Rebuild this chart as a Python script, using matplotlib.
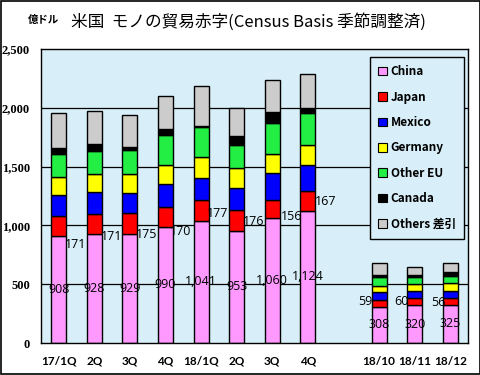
import numpy as np
import matplotlib
matplotlib.use("Agg")
import matplotlib.pyplot as plt
from matplotlib.patches import Patch, Rectangle

# --- data (億ドル) ---
periods  = ["17/1Q", "2Q", "3Q", "4Q", "18/1Q", "2Q", "3Q", "4Q", "18/10", "18/11", "18/12"]
china    = [908, 928, 929, 990, 1041, 953, 1060, 1124, 308, 320, 325]
japan    = [171, 171, 175, 170, 177, 176, 156, 167, 59, 60, 56]
mexico   = [179, 182, 168, 189, 182, 186, 226, 219, 64, 62, 64]
germany  = [153, 153, 162, 161, 178, 170, 161, 170, 51, 57, 62]
other_eu = [198, 201, 209, 258, 255, 198, 270, 272, 76, 59, 65]
canada   = [48, 57, 23, 48, 14, 77, 91, 43, 20, 17, 29]
others   = [295, 277, 269, 281, 335, 235, 269, 291, 102, 68, 79]

series = [
    ("China",    china,    "#FF99FF"),
    ("Japan",    japan,    "#FF0000"),
    ("Mexico",   mexico,   "#0000FF"),
    ("Germany",  germany,  "#FFFF00"),
    ("Other EU", other_eu, "#22EE44"),
    ("Canada",   canada,   "#000000"),
    ("Others 差引", others, "#CCCCCC"),
]

x = np.array([0, 1, 2, 3, 4, 5, 6, 7, 9, 10, 11], dtype=float)
# label placement tweaks for the Japan values (offset from segment middle)
jp_off = [-160, -110, -90, -131, -25, -10, -64, -6, 14, 0, -10]
jp_dx  = [0.47, 0.47, 0.47, 0.43, 0.45, 0.47, 0.55, 0.5, -0.38, -0.38, -0.33]

BG = "#D8EEF8"
JP = ["Noto Sans CJK JP", "DejaVu Sans"]

fig = plt.figure(figsize=(4.81, 3.75), dpi=100)
fig.patch.set_facecolor("white")
ax = fig.add_axes([0.0852, 0.0853, 0.888, 0.784])
ax.set_facecolor(BG)

for v in [500, 1000, 1500, 2000]:
    ax.axhline(v, color="black", linewidth=0.9, zorder=1)

bottom = np.zeros(len(x))
for name, vals, col in series:
    vals = np.array(vals, dtype=float)
    ax.bar(x, vals, 0.42, bottom=bottom, color=col, edgecolor="black",
           linewidth=1.0, zorder=2)
    bottom += vals

for i in range(len(x)):
    c = china[i]
    ax.text(x[i], c / 2, f"{c:,}", ha="center", va="center", fontsize=9,
            family="Open Sans", color="black", zorder=4)
    jy = c + japan[i] / 2 + jp_off[i]
    ax.text(x[i] + jp_dx[i], jy, str(japan[i]), ha="center", va="center",
            fontsize=9, family="Open Sans", color="black", zorder=4)

ax.set_xlim(-0.5, 11.5)
ax.set_ylim(0, 2500)
ax.set_xticks(x)
ax.set_xticklabels(periods, fontsize=8.5, fontweight="bold", family="Lato")
ax.set_yticks([0, 500, 1000, 1500, 2000, 2500])
ax.set_yticklabels(["0", "500", "1,000", "1,500", "2,000", "2,500"],
                   fontsize=9, fontweight="bold", family="Liberation Serif")
ax.tick_params(axis="both", length=0)
ax.tick_params(axis="x", pad=9)
ax.tick_params(axis="y", pad=8)
for s in ax.spines.values():
    s.set_linewidth(1.0)
    s.set_color("black")

handles = [Patch(facecolor=col, edgecolor="black", linewidth=0.8, label=name)
           for name, vals, col in series]
leg = ax.legend(handles=handles, loc="upper right", bbox_to_anchor=(0.991, 0.973),
                borderaxespad=0, labelspacing=1.05,
                handlelength=0.75, handleheight=0.75, handletextpad=0.35,
                borderpad=0.7, fancybox=False, framealpha=1,
                facecolor=BG, edgecolor="black",
                prop={"family": JP, "size": 8.5, "weight": "bold"})
leg.get_frame().set_linewidth(1.0)

fig.text(0.516, 0.941, "米国  モノの貿易赤字(Census Basis 季節調整済)",
         ha="center", va="center", fontsize=12, family=JP)
fig.text(0.09, 0.947, "億ドル", ha="center", va="center", fontsize=7.5,
         fontweight="bold", family=JP)

fig.patches.append(Rectangle((0.002, 0.004), 0.996, 0.993, transform=fig.transFigure,
                             fill=False, edgecolor="black", linewidth=1.2))

plt.savefig("out.png", dpi=100)
plt.close()
